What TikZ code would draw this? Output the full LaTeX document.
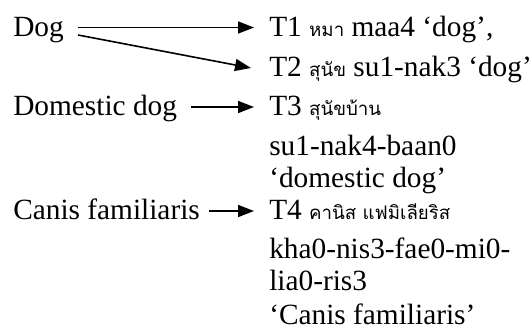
\documentclass[tikz,border=0pt]{standalone}
\usepackage{fontspec}
\setmainfont{Liberation Serif}
\newfontfamily\thaifont[Script=Thai]{Loma}
\usetikzlibrary{arrows.meta}
\usetikzlibrary{calc}

\newcommand{\thaiword}[1]{{\thaifont\fontsize{14}{16}\selectfont #1}}

\tikzset{
  lbl/.style={anchor=base west, inner sep=0.75pt, font=\fontsize{22}{26}\selectfont},
  arr/.style={line width=1.2pt, -{Triangle[length=12pt,width=9pt]}},
}

\begin{document}
\begin{tikzpicture}[x=0.75pt,y=0.75pt,yscale=-1,xscale=1]
\path [use as bounding box] (0,0) rectangle (532,329);

% Text Node
\node [lbl] (dog) at (12,36.5) {Dog};
% Text Node
\node [lbl] (domestic) at (12,115) {Domestic dog};
% Text Node
\node [lbl] (canis) at (12,219) {Canis familiaris};

% Text Node
\node [lbl] (t1) at (268,36.5) {T1 \thaiword{หมา} maa4 ‘dog’,};
% Text Node
\node [lbl] (t2) at (268,76) {T2 \thaiword{สุนัข} su1-nak3 ‘dog’};
% Text Node
\node [lbl] (t3) at (268,115) {T3 \thaiword{สุนัขบ้าน}};
\node [lbl] (t3b) at (268,155) {su1-nak4-baan0};
\node [lbl] (t3c) at (268,187) {‘domestic dog’};
% Text Node
\node [lbl] (t4) at (268,219) {T4 \thaiword{คานิส แฟมิเลียริส}};
\node [lbl] (t4b) at (268,258) {kha0-nis3-fae0-mi0-};
\node [lbl] (t4c) at (268,290) {lia0-ris3};
\node [lbl] (t4d) at (268,324) {‘Canis familiaris’};

%Straight Lines
\draw [arr] ($(dog.base east)+(13,-9)$) -- ($(t1.base west)+(-14,-9)$);
\draw [arr] ($(dog.base east)+(13,-1.5)$) -- ($(t2.base west)+(-17,-8)$);
\draw [arr] ($(domestic.base east)+(13,-8)$) -- ($(t3.base west)+(-14,-8)$);
\draw [arr] ($(canis.base east)+(8,-8)$) -- ($(t4.base west)+(-14,-8)$);

\end{tikzpicture}
\end{document}
